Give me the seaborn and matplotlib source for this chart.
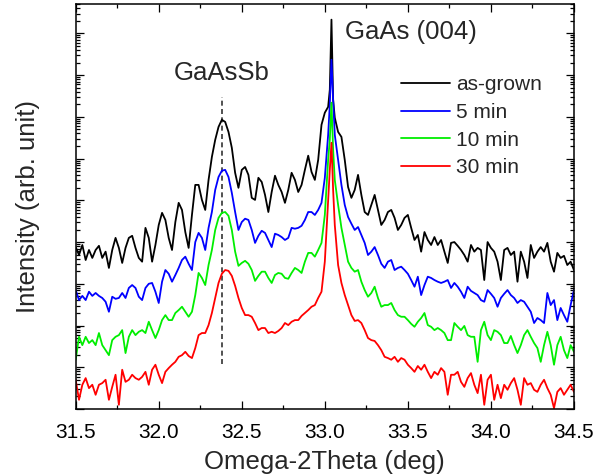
import numpy as np
import pandas as pd
import matplotlib
matplotlib.use("Agg")
import matplotlib.pyplot as plt
import seaborn as sns
from matplotlib.ticker import LogLocator, NullFormatter, MultipleLocator

# Omega-2Theta scan grid (deg), with extra points across the substrate peak
two_theta = np.sort(np.concatenate([np.round(np.arange(31.5, 34.5001, 0.02), 2), [33.03, 33.05]]))

# log10 of the (vertically offset) diffracted intensity for each anneal time
log_as_grown = [
    3.88, 3.69, 3.93, 3.57, 3.81, 3.62, 3.81, 3.91, 3.62, 3.77,
    3.38, 3.81, 4.10, 3.86, 3.50, 3.86, 4.10, 4.15, 3.86, 3.62,
    3.53, 4.34, 4.10, 3.53, 3.93, 4.41, 4.70, 4.53, 4.10, 3.81,
    4.48, 4.94, 4.77, 4.24, 3.86, 4.65, 5.37, 5.37, 5.01, 4.77,
    5.49, 6.04, 6.45, 6.76, 6.93, 6.88, 6.64, 6.26, 5.66, 5.30,
    5.73, 5.80, 5.61, 5.06, 5.01, 5.54, 5.44, 5.13, 4.72, 5.20,
    5.59, 5.37, 5.20, 4.94, 5.25, 5.66, 5.49, 5.20, 5.37, 5.73,
    6.07, 5.68, 5.49, 5.97, 6.81, 7.10, 7.24, 7.65, 9.33, 7.41, 6.98, 6.64,
    6.52, 5.97, 5.32, 5.06, 5.25, 5.61, 5.13, 4.72, 4.65, 4.89,
    5.13, 4.77, 4.41, 4.53, 4.72, 4.77, 4.58, 4.29, 4.41, 4.58,
    4.65, 4.34, 4.05, 4.17, 3.77, 4.24, 4.05, 3.93, 4.12, 3.93,
    4.05, 3.77, 3.50, 3.98, 4.00, 3.91, 3.81, 3.69, 3.53, 3.93,
    3.77, 3.86, 3.81, 3.09, 4.00, 3.86, 3.77, 3.53, 3.09, 3.81,
    3.86, 3.69, 3.77, 3.05, 3.77, 3.53, 3.14, 3.93, 3.62, 3.77,
    3.88, 3.77, 3.98, 3.53, 3.29, 3.74, 3.62, 3.67, 3.45, 3.53, 3.33,
]
log_5min = [
    2.85, 2.61, 2.71, 2.61, 2.81, 2.71, 2.78, 2.71, 2.66, 2.57,
    2.33, 2.69, 2.64, 2.66, 2.78, 2.66, 2.90, 2.97, 2.90, 2.69,
    2.61, 2.90, 3.00, 3.02, 2.81, 2.54, 3.05, 3.33, 3.24, 3.05,
    3.21, 3.38, 3.57, 3.65, 3.48, 3.33, 4.00, 4.22, 4.10, 3.81,
    4.34, 4.72, 5.25, 5.56, 5.71, 5.73, 5.56, 5.18, 4.72, 4.29,
    4.48, 4.56, 4.53, 4.29, 3.98, 4.15, 4.27, 4.22, 4.05, 3.88,
    4.20, 4.17, 4.12, 4.05, 4.10, 4.34, 4.32, 4.34, 4.39, 4.53,
    4.72, 4.72, 4.65, 4.77, 4.94, 5.54, 6.57, 7.29, 8.37, 7.41, 6.57, 5.97,
    5.37, 4.89, 4.60, 4.44, 4.29, 4.36, 4.17, 3.98, 3.69, 3.77,
    3.88, 3.69, 3.48, 3.38, 3.53, 3.57, 3.33, 3.38, 3.41, 3.33,
    3.24, 3.09, 2.93, 3.17, 2.73, 2.97, 3.17, 3.14, 3.09, 3.05,
    3.02, 3.05, 3.09, 2.90, 3.02, 2.93, 2.81, 2.66, 2.93, 2.83,
    2.78, 2.73, 2.61, 2.57, 2.85, 2.76, 2.66, 2.45, 2.66, 2.76,
    2.85, 2.73, 2.66, 2.54, 2.61, 2.57, 2.45, 2.33, 2.06, 2.18,
    2.13, 2.06, 2.78, 2.49, 2.61, 2.13, 2.42, 2.25, 2.09, 2.49, 2.85,
]
log_10min = [
    1.18, 1.73, 1.53, 1.73, 1.58, 1.65, 1.53, 1.82, 1.53, 1.41,
    1.29, 1.65, 1.73, 1.77, 1.89, 1.34, 1.73, 1.89, 1.77, 1.85,
    1.89, 1.82, 2.09, 1.89, 1.70, 1.89, 2.13, 2.25, 2.13, 2.13,
    2.30, 2.37, 2.45, 2.33, 2.21, 2.33, 2.73, 3.26, 3.14, 2.97,
    3.45, 3.81, 4.29, 4.58, 4.70, 4.72, 4.63, 4.29, 3.77, 3.43,
    3.50, 3.55, 3.48, 3.33, 3.07, 3.19, 3.29, 3.29, 3.14, 3.02,
    3.21, 3.26, 3.24, 3.14, 3.12, 3.26, 3.38, 3.33, 3.26, 3.53,
    3.74, 3.74, 3.65, 3.81, 3.98, 4.65, 5.97, 6.45, 7.34, 6.21, 5.49, 4.89,
    4.34, 3.93, 3.53, 3.38, 3.29, 3.33, 3.05, 2.85, 2.69, 2.78,
    2.93, 2.66, 2.45, 2.49, 2.49, 2.54, 2.37, 2.25, 2.21, 2.21,
    2.13, 2.04, 1.97, 2.09, 2.18, 2.30, 2.01, 1.97, 1.89, 1.94,
    1.89, 1.82, 1.65, 1.65, 2.06, 1.97, 1.89, 1.99, 1.77, 1.73,
    1.73, 1.13, 1.89, 2.09, 1.77, 1.65, 1.89, 1.85, 1.77, 1.58,
    1.58, 1.75, 1.53, 1.34, 1.53, 1.77, 1.89, 1.73, 1.58, 1.46,
    1.13, 1.53, 1.85, 1.53, 1.06, 1.53, 1.73, 1.41, 1.22, 1.53, 1.37,
]
log_30min = [
    0.70, 0.22, 0.58, 0.74, 0.50, 0.58, 0.34, 0.58, 0.62, 0.70,
    0.22, 0.53, 0.82, 0.10, 0.94, 0.65, 0.70, 0.82, 0.74, 0.70,
    0.77, 0.89, 0.58, 0.94, 1.06, 0.82, 0.62, 0.89, 0.98, 1.06,
    1.13, 1.25, 1.29, 1.37, 1.27, 1.22, 1.46, 1.77, 1.82, 1.82,
    2.01, 2.30, 2.66, 3.02, 3.24, 3.33, 3.31, 3.19, 2.95, 2.66,
    2.42, 2.25, 2.25, 2.21, 2.06, 1.89, 1.94, 1.94, 1.82, 1.85,
    1.82, 1.87, 1.94, 2.06, 2.01, 2.09, 2.13, 2.13, 2.23, 2.30,
    2.37, 2.45, 2.49, 2.66, 2.81, 3.53, 5.01, 5.73, 6.38, 5.25, 4.41, 3.45,
    3.02, 2.73, 2.49, 2.25, 2.11, 2.13, 2.06, 1.89, 1.70, 1.65,
    1.63, 1.53, 1.41, 1.25, 1.22, 1.18, 1.25, 1.13, 1.22, 1.18,
    1.06, 0.98, 0.89, 1.03, 0.94, 1.06, 0.89, 0.74, 0.89, 0.82,
    0.98, 0.89, 0.34, 0.82, 0.82, 0.89, 0.65, 0.53, 0.74, 0.86,
    0.58, 0.38, 0.82, 0.10, 0.70, 0.82, 0.22, 0.58, 0.26, 0.58,
    0.46, 0.62, 0.74, 0.46, 0.10, 0.74, 0.58, 0.62, 0.46, 0.41,
    0.58, 0.70, 0.50, 0.34, 0.02, 0.41, 0.50, 0.34, 0.46, 0.58, 0.41,
]

samples = ["as-grown", "5 min", "10 min", "30 min"]
colors = ["#000000", "#0000ff", "#00ee00", "#ff0000"]
series = [log_as_grown, log_5min, log_10min, log_30min]

gaassb_peak = 32.38

df = pd.concat(
    [pd.DataFrame({"two_theta": two_theta,
                   "intensity": 10.0 ** np.asarray(vals),
                   "sample": name})
     for name, vals in zip(samples, series)],
    ignore_index=True,
)

sns.set_style("ticks")
plt.rcParams["font.family"] = ["Liberation Sans", "DejaVu Sans"]

fig = plt.figure(figsize=(5.96, 4.75), dpi=100)
ax = fig.add_axes([0.127, 0.139, 0.836, 0.853])

sns.lineplot(data=df, x="two_theta", y="intensity", hue="sample",
             hue_order=samples, palette=colors, estimator=None, sort=False,
             linewidth=1.3, ax=ax)

ax.set_yscale("log")
ax.set_xlim(31.5, 34.5)
ax.set_ylim(1.0, 10 ** 9.71)

ax.xaxis.set_major_locator(MultipleLocator(0.5))
ax.xaxis.set_minor_locator(MultipleLocator(0.25))
ax.xaxis.set_major_formatter(matplotlib.ticker.FormatStrFormatter("%.1f"))
ax.yaxis.set_major_locator(LogLocator(base=10, numticks=30))
ax.yaxis.set_minor_locator(LogLocator(base=10, subs=np.arange(2, 10), numticks=30))
ax.yaxis.set_major_formatter(NullFormatter())
ax.yaxis.set_minor_formatter(NullFormatter())

ax.tick_params(which="both", direction="in", top=True, right=True,
               width=0.9, colors="black")
ax.tick_params(which="major", length=6)
ax.tick_params(which="minor", length=3)
ax.tick_params(axis="x", which="major", labelsize=15, pad=10)
for sp in ax.spines.values():
    sp.set_linewidth(1.1)
    sp.set_color("black")

ax.set_xlabel("Omega-2Theta (deg)", fontsize=18.5, labelpad=6)
ax.set_ylabel("Intensity (arb. unit)", fontsize=18.5, labelpad=22)

# GaAsSb layer peak marker
ax.axvline(gaassb_peak, ymin=0.11, ymax=0.77, color="#333333",
           linestyle=(0, (3, 2)), linewidth=1.2, zorder=1)
ax.text(gaassb_peak, 10 ** 8.06, "GaAsSb", fontsize=18.5, ha="center", va="center")
ax.text(33.12, 10 ** 9.04, "GaAs (004)", fontsize=18.5, ha="left", va="center")

sns.move_legend(ax, "upper left", bbox_to_anchor=(0.615, 0.87), title=None,
                frameon=False, fontsize=15, handlelength=2.35,
                handletextpad=0.3, labelspacing=0.42)

fig.savefig("out.png", dpi=100)
